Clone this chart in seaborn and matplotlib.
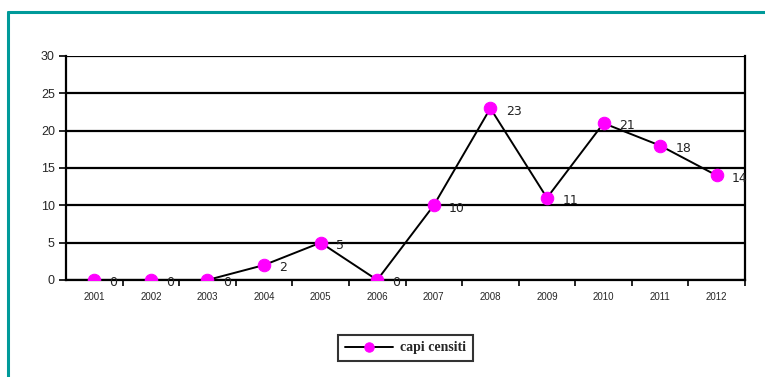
import matplotlib
matplotlib.use("Agg")
import matplotlib.pyplot as plt
from matplotlib.lines import Line2D
from matplotlib.ticker import FixedLocator, NullFormatter, FixedFormatter
import seaborn as sns
import pandas as pd

years = ["2001", "2002", "2003", "2004", "2005", "2006",
         "2007", "2008", "2009", "2010", "2011", "2012"]
capi_censiti = [0, 0, 0, 2, 5, 0, 10, 23, 11, 21, 18, 14]
y_ticks = [0, 5, 10, 15, 20, 25, 30]

sns.set_theme(style="white")
plt.rcParams["font.family"] = ["Liberation Sans", "DejaVu Sans"]

df = pd.DataFrame({"pos": range(len(years)), "anno": years, "capi censiti": capi_censiti})

fig = plt.figure(figsize=(7.65, 3.77), dpi=100)
ax = fig.add_axes([66 / 765, 1 - 280 / 377, (745 - 66) / 765, (280 - 56) / 377])

# horizontal grid lines
for v in y_ticks:
    ax.axhline(v, color="black", lw=1.6, zorder=1)

sns.lineplot(data=df, x="pos", y="capi censiti", ax=ax, color="black", lw=1.4,
             marker="o", markersize=9, markerfacecolor="#ff00ff",
             markeredgecolor="#ff00ff", label="capi censiti", zorder=3)

for i, v in enumerate(capi_censiti):
    ax.annotate(str(v), (i, v), xytext=(11, -2), textcoords="offset points",
                ha="left", va="center", fontsize=9, family="DejaVu Sans",
                color="#222222", zorder=4)

ax.set_xlim(-0.5, len(years) - 0.5)
ax.set_ylim(0, 30)
ax.set_yticks(y_ticks)
ax.set_yticklabels([str(v) for v in y_ticks], fontsize=9)

# tick marks between categories, labels at category centres
ax.xaxis.set_major_locator(FixedLocator([i + 0.5 for i in range(len(years))]))
ax.xaxis.set_major_formatter(NullFormatter())
ax.xaxis.set_minor_locator(FixedLocator(list(range(len(years)))))
ax.xaxis.set_minor_formatter(FixedFormatter(years))
ax.tick_params(axis="x", which="major", direction="out", length=4, width=1.2,
               color="black", bottom=True)
ax.tick_params(axis="x", which="minor", length=0, labelsize=7, pad=9)
ax.tick_params(axis="y", direction="out", length=5, width=1.2, color="black",
               left=True, pad=3)
ax.set_xlabel("")
ax.set_ylabel("")

for side in ["left", "bottom", "right"]:
    ax.spines[side].set_visible(True)
    ax.spines[side].set_color("black")
    ax.spines[side].set_linewidth(1.6)
ax.spines["top"].set_visible(False)

leg = ax.legend(loc="center", bbox_to_anchor=(0.5, -(348 - 280) / 224), frameon=True,
                fancybox=False, prop={"family": "Liberation Serif", "weight": "bold",
                                      "size": 10},
                handlelength=3.5, borderpad=0.5, handletextpad=0.5, markerscale=0.75)
leg.get_frame().set_edgecolor("black")
leg.get_frame().set_linewidth(1.5)

# teal outer frame
teal = "#009a9a"
fig.add_artist(Line2D([7.5 / 765, 7.5 / 765], [0, 1 - 11.5 / 377],
                      transform=fig.transFigure, color=teal, lw=2.2))
fig.add_artist(Line2D([7.5 / 765, 1], [1 - 11.5 / 377, 1 - 11.5 / 377],
                      transform=fig.transFigure, color=teal, lw=2.2))

fig.savefig("out.png", dpi=100)
